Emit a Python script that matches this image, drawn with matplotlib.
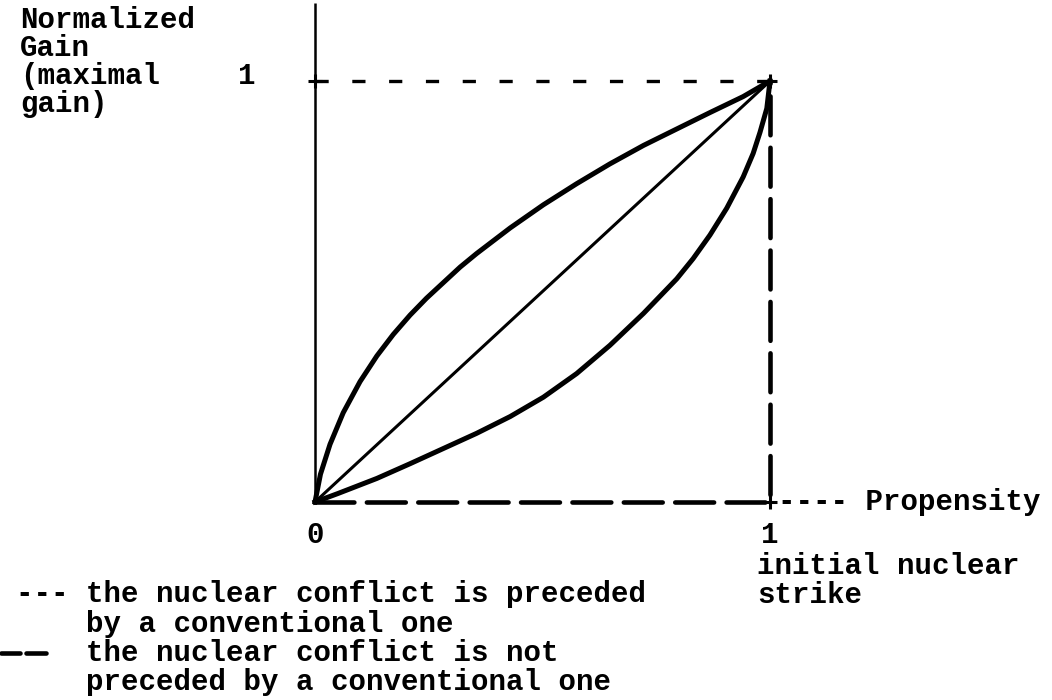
import matplotlib
matplotlib.use("Agg")
import matplotlib.pyplot as plt
from matplotlib.lines import Line2D

plt.rcParams['lines.scale_dashes'] = False

###########                 Data                  ###########
#-----------------------------------------------------------#
# curves, propensity (x) vs normalized gain (y)
x_upper = [0, 0.012, 0.033, 0.062, 0.099, 0.136, 0.172, 0.209, 0.245, 0.319, 0.355,
           0.429, 0.502, 0.575, 0.648, 0.722, 0.795, 0.868, 0.941, 1.0]
y_upper = [0, 0.066, 0.137, 0.212, 0.286, 0.347, 0.398, 0.444, 0.484, 0.558, 0.590,
           0.651, 0.706, 0.756, 0.803, 0.847, 0.886, 0.925, 0.963, 1.0]

x_lower = [0, 0.05, 0.136, 0.209, 0.282, 0.355, 0.429, 0.502, 0.575, 0.648, 0.722,
           0.795, 0.831, 0.868, 0.905, 0.941, 0.963, 0.978, 0.993, 1.0]
y_lower = [0, 0.02, 0.056, 0.091, 0.127, 0.163, 0.203, 0.249, 0.305, 0.372, 0.448,
           0.530, 0.578, 0.634, 0.698, 0.772, 0.828, 0.878, 0.935, 1.0]

x_diag = [0, 1]
y_diag = [0, 1]

# "not preceded" border (thick dashed): along the x axis and up x = 1
x_border = [0, 1, 1]
y_border = [0, 0, 1]

ylabel_lines = ['Normalized', 'Gain', '(maximal', 'gain)']
strike_lines = ['initial nuclear', 'strike']
legend_lines = ['--- the nuclear conflict is preceded',
                '    by a conventional one',
                '    the nuclear conflict is not',
                '    preceded by a conventional one']

###########                Figure                 ###########
#-----------------------------------------------------------#
W, H = 1052, 700
fig = plt.figure(figsize=(W / 100, H / 100), dpi=100)
ax = fig.add_axes([0, 0, 1, 1])
ax.axis('off')

# origin and (1, 1) in pixels
x0, y0 = 315, 502
x1, y1 = 770, 81
sx, sy = x1 - x0, y0 - y1
ax.set_xlim(-x0 / sx, (W - x0) / sx)
ax.set_ylim(-(H - y0) / sy, y0 / sy)

def fx(px):
    return px / W

def fy(py):
    return 1 - py / H

font = dict(family=['Liberation Mono', 'DejaVu Sans Mono'], weight='bold', size=21)

###########                 Axes                  ###########
#-----------------------------------------------------------#
axis_top = 1.185
ax.plot([0, 0], [0, axis_top], color='black', lw=1.8, solid_capstyle='butt')

# maximal gain level
top = Line2D([0, 1], [1, 1], color='black', lw=2.4)
top.set_dashes((9.5, 17))
ax.add_line(top)

border = Line2D(x_border, y_border, color='black', lw=3.3, dash_capstyle='round')
border.set_dashes((28, 9))
ax.add_line(border)

ax.plot([0, 1, 1], [1, 1, 0], linestyle='none', marker='+', ms=10, mew=2.2, color='black')

###########                Curves                 ###########
#-----------------------------------------------------------#
ax.plot(x_upper, y_upper, color='black', lw=3.6, solid_joinstyle='round')
ax.plot(x_lower, y_lower, color='black', lw=3.6, solid_joinstyle='round')
ax.plot(x_diag, y_diag, color='black', lw=2.2)

###########                 Text                  ###########
#-----------------------------------------------------------#
for i, s in enumerate(ylabel_lines):
    fig.text(fx(20), fy(20 + 28 * i), s, ha='left', va='center', **font)
fig.text(fx(247), fy(76), '1', ha='center', va='center', **font)

fig.text(fx(x0), fy(535), '0', ha='center', va='center', **font)
fig.text(fx(x1), fy(535), '1', ha='center', va='center', **font)
fig.text(fx(778), fy(y0), '---- Propensity', ha='left', va='center', **font)
for i, s in enumerate(strike_lines):
    fig.text(fx(757), fy(566 + 29 * i), s, ha='left', va='center', **font)

for i, s in enumerate(legend_lines):
    fig.text(fx(16), fy(594 + 29.5 * i), s, ha='left', va='center', **font)

# thick dash sample for the second legend entry
fig.add_artist(Line2D([fx(1), fx(20)], [fy(653), fy(653)], color='black', lw=3.3, solid_capstyle='round'))
fig.add_artist(Line2D([fx(26), fx(46)], [fy(653), fy(653)], color='black', lw=3.3, solid_capstyle='round'))

fig.savefig('out.png', dpi=100)
